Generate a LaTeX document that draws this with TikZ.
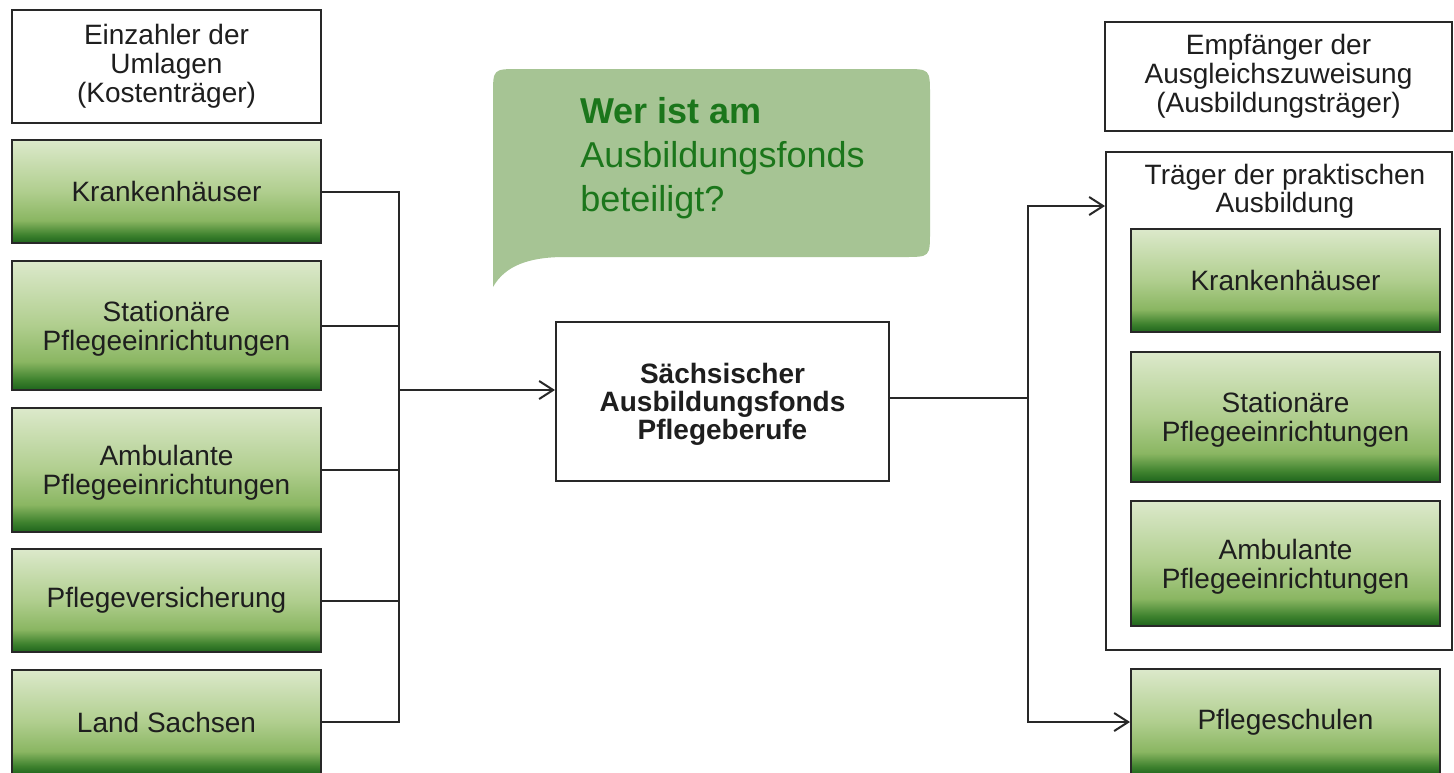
\documentclass[tikz,border=0pt]{standalone}
\usepackage{fontspec}
\setmainfont{Liberation Sans}
\usetikzlibrary{arrows.meta,calc}
\definecolor{gdark}{RGB}{30,100,28}
\definecolor{gmidA}{RGB}{62,130,46}
\definecolor{gmidB}{RGB}{138,182,98}
\definecolor{gmidC}{RGB}{176,206,142}
\definecolor{glight}{RGB}{220,233,203}
\definecolor{bubblefill}{RGB}{166,196,148}
\definecolor{qgreen}{RGB}{27,118,27}
\definecolor{edge}{RGB}{40,40,40}
\definecolor{txt}{RGB}{30,30,30}
\pgfdeclareverticalshading{greenbox}{100bp}{color(0bp)=(gdark); color(25bp)=(gdark); color(29bp)=(gmidA); color(36bp)=(gmidB); color(50bp)=(gmidC); color(75bp)=(glight); color(100bp)=(glight)}
\tikzset{
  basebox/.style={draw=edge, line width=1pt, inner sep=0pt, align=center, text=txt,
    font=\fontsize{14pt}{14.5pt}\selectfont},
  whitebox/.style={basebox, fill=white},
  greenbox/.style={basebox, shading=greenbox, minimum width=154.5pt},
  twoline/.style={text depth=-1pt},
  conn/.style={draw=edge, line width=1pt},
  arr/.style={conn, -{Straight Barb[length=7pt,width=9pt,line width=1pt]}},
}
\begin{document}
\begin{tikzpicture}[x=0.5pt,y=-0.5pt]
\useasboundingbox (0,0) rectangle (1454,772);
\fill[white] (0,0) rectangle (1454,772);

% speech bubble
\fill[bubblefill] (493,287) -- (493,95) .. controls (493,69) .. (519,69) -- (904,69)
  .. controls (930,69) .. (930,95) -- (930,231) .. controls (930,257) .. (904,257)
  -- (565,257) .. controls (528,257) and (505,266) .. (493,287) -- cycle;
\node[anchor=west, align=left, inner sep=0pt, text=qgreen,
  font=\fontsize{18pt}{22pt}\selectfont] (q) at (580,158)
  {\textbf{Wer ist am}\\Ausbildungsfonds\\beteiligt?};

% left column
\node[whitebox, minimum width=154.5pt, minimum height=56.5pt] (lh) at (166.5,66.5)
  {Einzahler der\\Umlagen\\(Kostenträger)};
\node[greenbox, minimum height=51.5pt] (k1) at (166.5,191.5) {Krankenhäuser};
\node[greenbox, twoline, minimum height=64.5pt] (s1) at (166.5,325.5) {Stationäre\\Pflegeeinrichtungen};
\node[greenbox, twoline, minimum height=62pt] (a1) at (166.5,470) {Ambulante\\Pflegeeinrichtungen};
\node[greenbox, minimum height=51.5pt] (p1) at (166.5,600.5) {Pflegeversicherung};
\node[greenbox, minimum height=52.5pt] (l1) at (166.5,722) {Land Sachsen};

% center
\node[whitebox, minimum width=166.5pt, minimum height=79.5pt, text depth=-4pt,
  font=\fontsize{14pt}{14pt}\selectfont\bfseries] (fonds) at (722.5,401.5)
  {Sächsischer\\Ausbildungsfonds\\Pflegeberufe};

% right column
\node[whitebox, minimum width=173.5pt, minimum height=54.5pt] (rh) at (1278.5,76.5)
  {Empfänger der\\Ausgleichszuweisung\\(Ausbildungsträger)};
\node[whitebox, minimum width=173pt, minimum height=249pt] (cont) at (1279,401) {};
\node[align=center, inner sep=0pt, text=txt, font=\fontsize{14pt}{14pt}\selectfont]
  (ct) at (1285,191) {Träger der praktischen\\Ausbildung};
\node[greenbox, minimum height=51.5pt] (k2) at (1285.5,280.5) {Krankenhäuser};
\node[greenbox, twoline, minimum height=65pt] (s2) at (1285.5,417) {Stationäre\\Pflegeeinrichtungen};
\node[greenbox, twoline, minimum height=62.5pt] (a2) at (1285.5,563.5) {Ambulante\\Pflegeeinrichtungen};
\node[greenbox, minimum height=53pt] (ps) at (1285.5,722) {Pflegeschulen};

% connectors left
\coordinate (jl) at (399,390);
\draw[conn] (k1.east) -| (jl);
\draw[conn] (s1.east) -| (jl);
\draw[conn] (a1.east) -| (jl);
\draw[conn] (p1.east) -| (jl);
\draw[conn] (l1.east) -| (jl);
\draw[arr] (jl) -- (jl -| fonds.west);

% connectors right
\coordinate (jr) at (1028,398);
\draw[conn] (fonds.east |- jr) -- (jr);
\draw[arr] (jr) |- ([yshift=-27.5pt]cont.north west);
\draw[arr] (jr) |- (ps.west);
\end{tikzpicture}
\end{document}
